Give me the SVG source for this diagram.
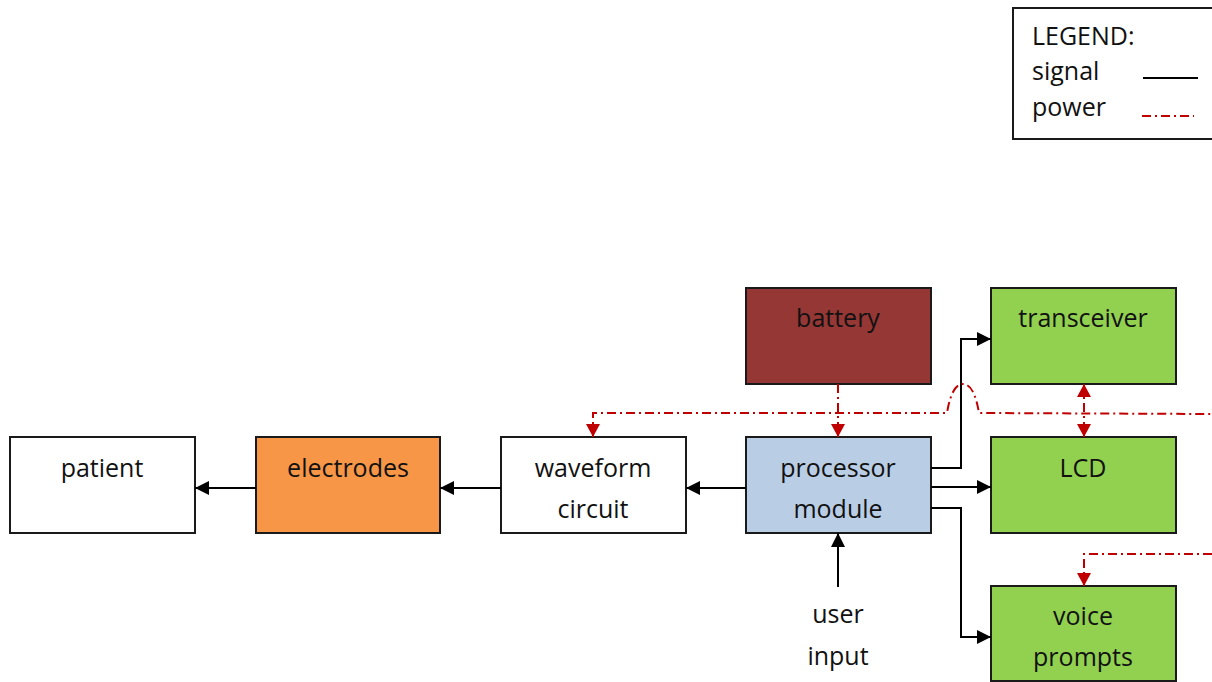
<svg xmlns="http://www.w3.org/2000/svg" width="1212" height="682" viewBox="0 0 1212 682">
<style>
.box{stroke:#1a1a1a;stroke-width:2}
.t{font-family:"Open Sans","Liberation Sans",sans-serif;font-size:25px;fill:#111;text-anchor:middle}
.lt{font-family:"Open Sans","Liberation Sans",sans-serif;font-size:25px;fill:#111}
.sig{fill:none;stroke:#000;stroke-width:2}
.pwr{fill:none;stroke:#C00000;stroke-width:2;stroke-dasharray:9,4,2,4}
</style>
<defs>
<marker id="ab" markerUnits="userSpaceOnUse" markerWidth="14" markerHeight="14" refX="14" refY="7" orient="auto"><path d="M0,0 L14,7 L0,14 z" fill="#000"/></marker>
<marker id="ar" markerUnits="userSpaceOnUse" markerWidth="14" markerHeight="14" refX="13" refY="7" orient="auto-start-reverse"><path d="M0,0 L13,7 L0,14 z" fill="#C00000"/></marker>
</defs>
<rect x="0" y="0" width="1212" height="682" fill="#fff"/>
<g id="legend">
<rect x="1013" y="8" width="205" height="131" fill="#fff" stroke="#1a1a1a" stroke-width="2"/>
<text class="lt" x="1032" y="45">LEGEND:</text>
<text class="lt" x="1032" y="80">signal</text>
<text class="lt" x="1032" y="116">power</text>
<line x1="1143" y1="78" x2="1198" y2="78" stroke="#000" stroke-width="2"/>
<line x1="1142" y1="116" x2="1194" y2="116" class="pwr"/>
</g>
<g id="patient"><rect class="box" x="10" y="437" width="185" height="96" fill="#fff"/><text class="t" x="102" y="477">patient</text></g>
<g id="electrodes"><rect class="box" x="256" y="437" width="184" height="96" fill="#F79646"/><text class="t" x="348" y="477">electrodes</text></g>
<g id="waveform"><rect class="box" x="501" y="437" width="185" height="96" fill="#fff"/><text class="t" x="593" y="477">waveform</text><text class="t" x="593" y="518">circuit</text></g>
<g id="processor"><rect class="box" x="746" y="437" width="185" height="96" fill="#B9CDE5"/><text class="t" x="838" y="477">processor</text><text class="t" x="838" y="518">module</text></g>
<g id="battery"><rect class="box" x="746" y="288" width="185" height="96" fill="#953735"/><text class="t" x="838" y="327">battery</text></g>
<g id="transceiver"><rect class="box" x="991" y="288" width="185" height="96" fill="#92D050"/><text class="t" x="1083" y="327">transceiver</text></g>
<g id="lcd"><rect class="box" x="991" y="437" width="185" height="96" fill="#92D050"/><text class="t" x="1083" y="477">LCD</text></g>
<g id="voice"><rect class="box" x="991" y="586" width="185" height="95" fill="#92D050"/><text class="t" x="1083" y="625">voice</text><text class="t" x="1083" y="666">prompts</text></g>
<g id="userinput"><text class="t" x="838" y="623">user</text><text class="t" x="838" y="665">input</text></g>
<g id="connectors">
<line class="sig" x1="746" y1="488" x2="686" y2="488" marker-end="url(#ab)"/>
<line class="sig" x1="501" y1="488" x2="440" y2="488" marker-end="url(#ab)"/>
<line class="sig" x1="256" y1="488" x2="195" y2="488" marker-end="url(#ab)"/>
<polyline class="sig" points="931,468 961,468 961,339 991,339" marker-end="url(#ab)"/>
<line class="sig" x1="931" y1="487" x2="991" y2="487" marker-end="url(#ab)"/>
<polyline class="sig" points="931,508 961,508 961,637 991,637" marker-end="url(#ab)"/>
<line class="sig" x1="838" y1="587" x2="838" y2="533" marker-end="url(#ab)"/>
<line class="pwr" x1="838" y1="384" x2="838" y2="437" marker-end="url(#ar)"/>
<path class="pwr" d="M593,437 L593,413 L947,413 C950,395 955,384 963,384 C971,384 976,395 979,413 L1212,414" marker-start="url(#ar)"/>
<line class="pwr" x1="1084" y1="384" x2="1084" y2="437" marker-start="url(#ar)" marker-end="url(#ar)"/>
<polyline class="pwr" points="1212,554 1084,554 1084,586" marker-end="url(#ar)"/>
</g>
</svg>
